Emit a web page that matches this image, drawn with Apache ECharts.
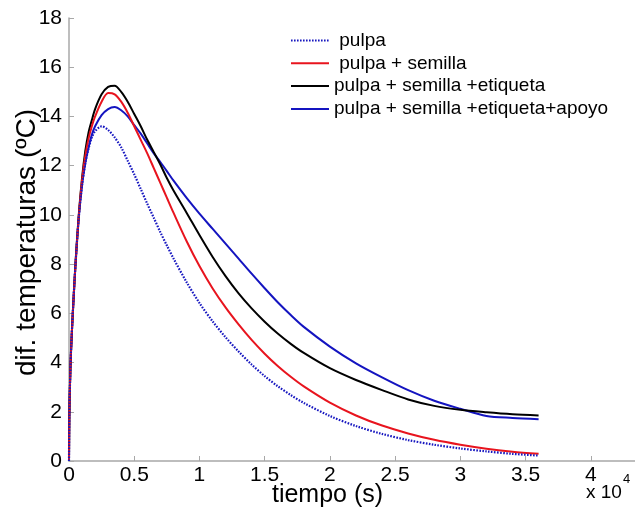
<!DOCTYPE html>
<html>
<head>
<meta charset="utf-8">
<script src="https://cdn.jsdelivr.net/npm/echarts@6/dist/echarts.min.js"></script>
<style>
html,body{margin:0;padding:0;background:#fff;}
#chart{width:635px;height:517px;}
</style>
</head>
<body>
<div id="chart"></div>
<script>
// time in seconds
const tiempo = [0, 25, 75, 150, 300, 500, 750, 1000, 1250, 1500, 1750, 2000, 2500, 3000, 3500, 4000, 4500, 5000, 5500, 6000, 6500, 7000, 7500, 8000, 9000, 10000, 11000, 12000, 13000, 14000, 15000, 16000, 17000, 18000, 20000, 22000, 24000, 26000, 28000, 30000, 32000, 34000, 36000];

const seriesNames = [' pulpa', ' pulpa + semilla', 'pulpa + semilla +etiqueta', 'pulpa + semilla +etiqueta+apoyo'];

const pulpa = [0, 1.8, 3.1, 4.4, 6.1, 8.0, 9.9, 11.2, 12.1, 12.7, 13.15, 13.4, 13.6, 13.45, 13.15, 12.75, 12.2, 11.65, 11.05, 10.45, 9.88, 9.3, 8.76, 8.24, 7.28, 6.42, 5.68, 5.03, 4.45, 3.92, 3.45, 3.04, 2.68, 2.36, 1.83, 1.42, 1.1, 0.85, 0.66, 0.51, 0.39, 0.29, 0.22];

const pulpaSemilla = [0, 1.8, 3.1, 4.4, 6.1, 8.0, 9.95, 11.4, 12.4, 13.1, 13.6, 14.0, 14.6, 14.95, 14.9, 14.6, 14.15, 13.6, 13.05, 12.5, 11.9, 11.3, 10.7, 10.1, 8.95, 7.92, 7.02, 6.24, 5.55, 4.92, 4.36, 3.86, 3.42, 3.03, 2.37, 1.85, 1.44, 1.12, 0.86, 0.66, 0.5, 0.38, 0.29];

const pulpaSemillaEtiqueta = [0, 1.8, 3.1, 4.4, 6.1, 8.05, 10.0, 11.5, 12.6, 13.35, 13.85, 14.3, 14.9, 15.2, 15.25, 15.0, 14.6, 14.1, 13.6, 13.05, 12.55, 12.05, 11.5, 11.0, 10.1, 9.18, 8.3, 7.51, 6.81, 6.2, 5.66, 5.18, 4.76, 4.39, 3.77, 3.29, 2.88, 2.5, 2.24, 2.08, 1.98, 1.9, 1.85];

const pulpaSemillaEtiquetaApoyo = [0, 1.8, 3.1, 4.4, 6.1, 8.0, 9.9, 11.2, 12.1, 12.75, 13.25, 13.6, 14.05, 14.3, 14.38, 14.25, 14.0, 13.65, 13.3, 12.9, 12.5, 12.15, 11.78, 11.4, 10.7, 10.05, 9.44, 8.83, 8.22, 7.61, 7.02, 6.45, 5.93, 5.45, 4.65, 3.97, 3.4, 2.88, 2.45, 2.12, 1.83, 1.75, 1.7];

const xAxisName = 'tiempo (s)';
const yAxisName = 'dif. temperaturas (ºC)';

function pairs(vals) { return tiempo.map((t, i) => [t, vals[i]]); }

const FONT = 'Liberation Sans, Arial, sans-serif';
const AXIS_GREY = '#a8a8a8';

const chart = echarts.init(document.getElementById('chart'), null, {renderer: 'canvas'});

const styles = [
  {color: '#1818c0', type: [1.6, 1.4], width: 2.2},
  {color: '#e8141e', type: 'solid', width: 2},
  {color: '#000000', type: 'solid', width: 2},
  {color: '#1414c0', type: 'solid', width: 2}
];
const allData = [pulpa, pulpaSemilla, pulpaSemillaEtiqueta, pulpaSemillaEtiquetaApoyo];

chart.setOption({
  backgroundColor: '#ffffff',
  animation: false,
  grid: {left: 69, top: 18, bottom: 56, right: -21, containLabel: false, outerBoundsMode: 'none'},
  legend: {
    orient: 'vertical',
    left: 290,
    top: 30,
    padding: 0,
    itemWidth: 38,
    itemHeight: 14,
    itemGap: 1.8,
    itemStyle: {opacity: 0},
    textStyle: {fontSize: 19, fontFamily: FONT, color: '#000', lineHeight: 21},
    data: seriesNames
  },
  xAxis: {
    type: 'value',
    min: 0,
    max: 45000,
    interval: 5000,
    name: xAxisName,
    nameLocation: 'middle',
    nameGap: 22,
    nameMoveOverlap: false,
    nameTextStyle: {fontSize: 25, fontFamily: FONT, color: '#000', padding: [0, 70, 0, 0]},
    axisLine: {show: true, lineStyle: {color: AXIS_GREY, width: 1.5}},
    axisTick: {show: true, inside: true, length: 5, lineStyle: {color: AXIS_GREY, width: 1}},
    axisLabel: {fontSize: 21, fontFamily: FONT, color: '#000', margin: 4,
      formatter: v => String(v / 10000)},
    splitLine: {show: false}
  },
  yAxis: {
    type: 'value',
    min: 0,
    max: 18,
    interval: 2,
    name: yAxisName,
    nameLocation: 'middle',
    nameGap: 28,
    nameMoveOverlap: false,
    nameTextStyle: {fontSize: 28, fontFamily: FONT, color: '#000', padding: [0, 6, 0, 0]},
    axisLine: {show: true, lineStyle: {color: AXIS_GREY, width: 1.5}},
    axisTick: {show: true, inside: true, length: 5, lineStyle: {color: AXIS_GREY, width: 1}},
    axisLabel: {fontSize: 21, fontFamily: FONT, color: '#000', margin: 7},
    splitLine: {show: false}
  },
  graphic: [
    {type: 'text', left: 586, top: 483, style: {text: 'x 10', fontSize: 19, fontFamily: FONT, fill: '#000'}},
    {type: 'text', left: 623, top: 473, style: {text: '4', fontSize: 13, fontFamily: FONT, fill: '#000'}}
  ],
  series: seriesNames.map((n, i) => ({
    name: n,
    type: 'line',
    data: pairs(allData[i]),
    symbol: 'none',
    smooth: 0.3,
    lineStyle: styles[i],
    itemStyle: {color: styles[i].color},
    z: 10 - i
  }))
});
</script>
</body>
</html>
